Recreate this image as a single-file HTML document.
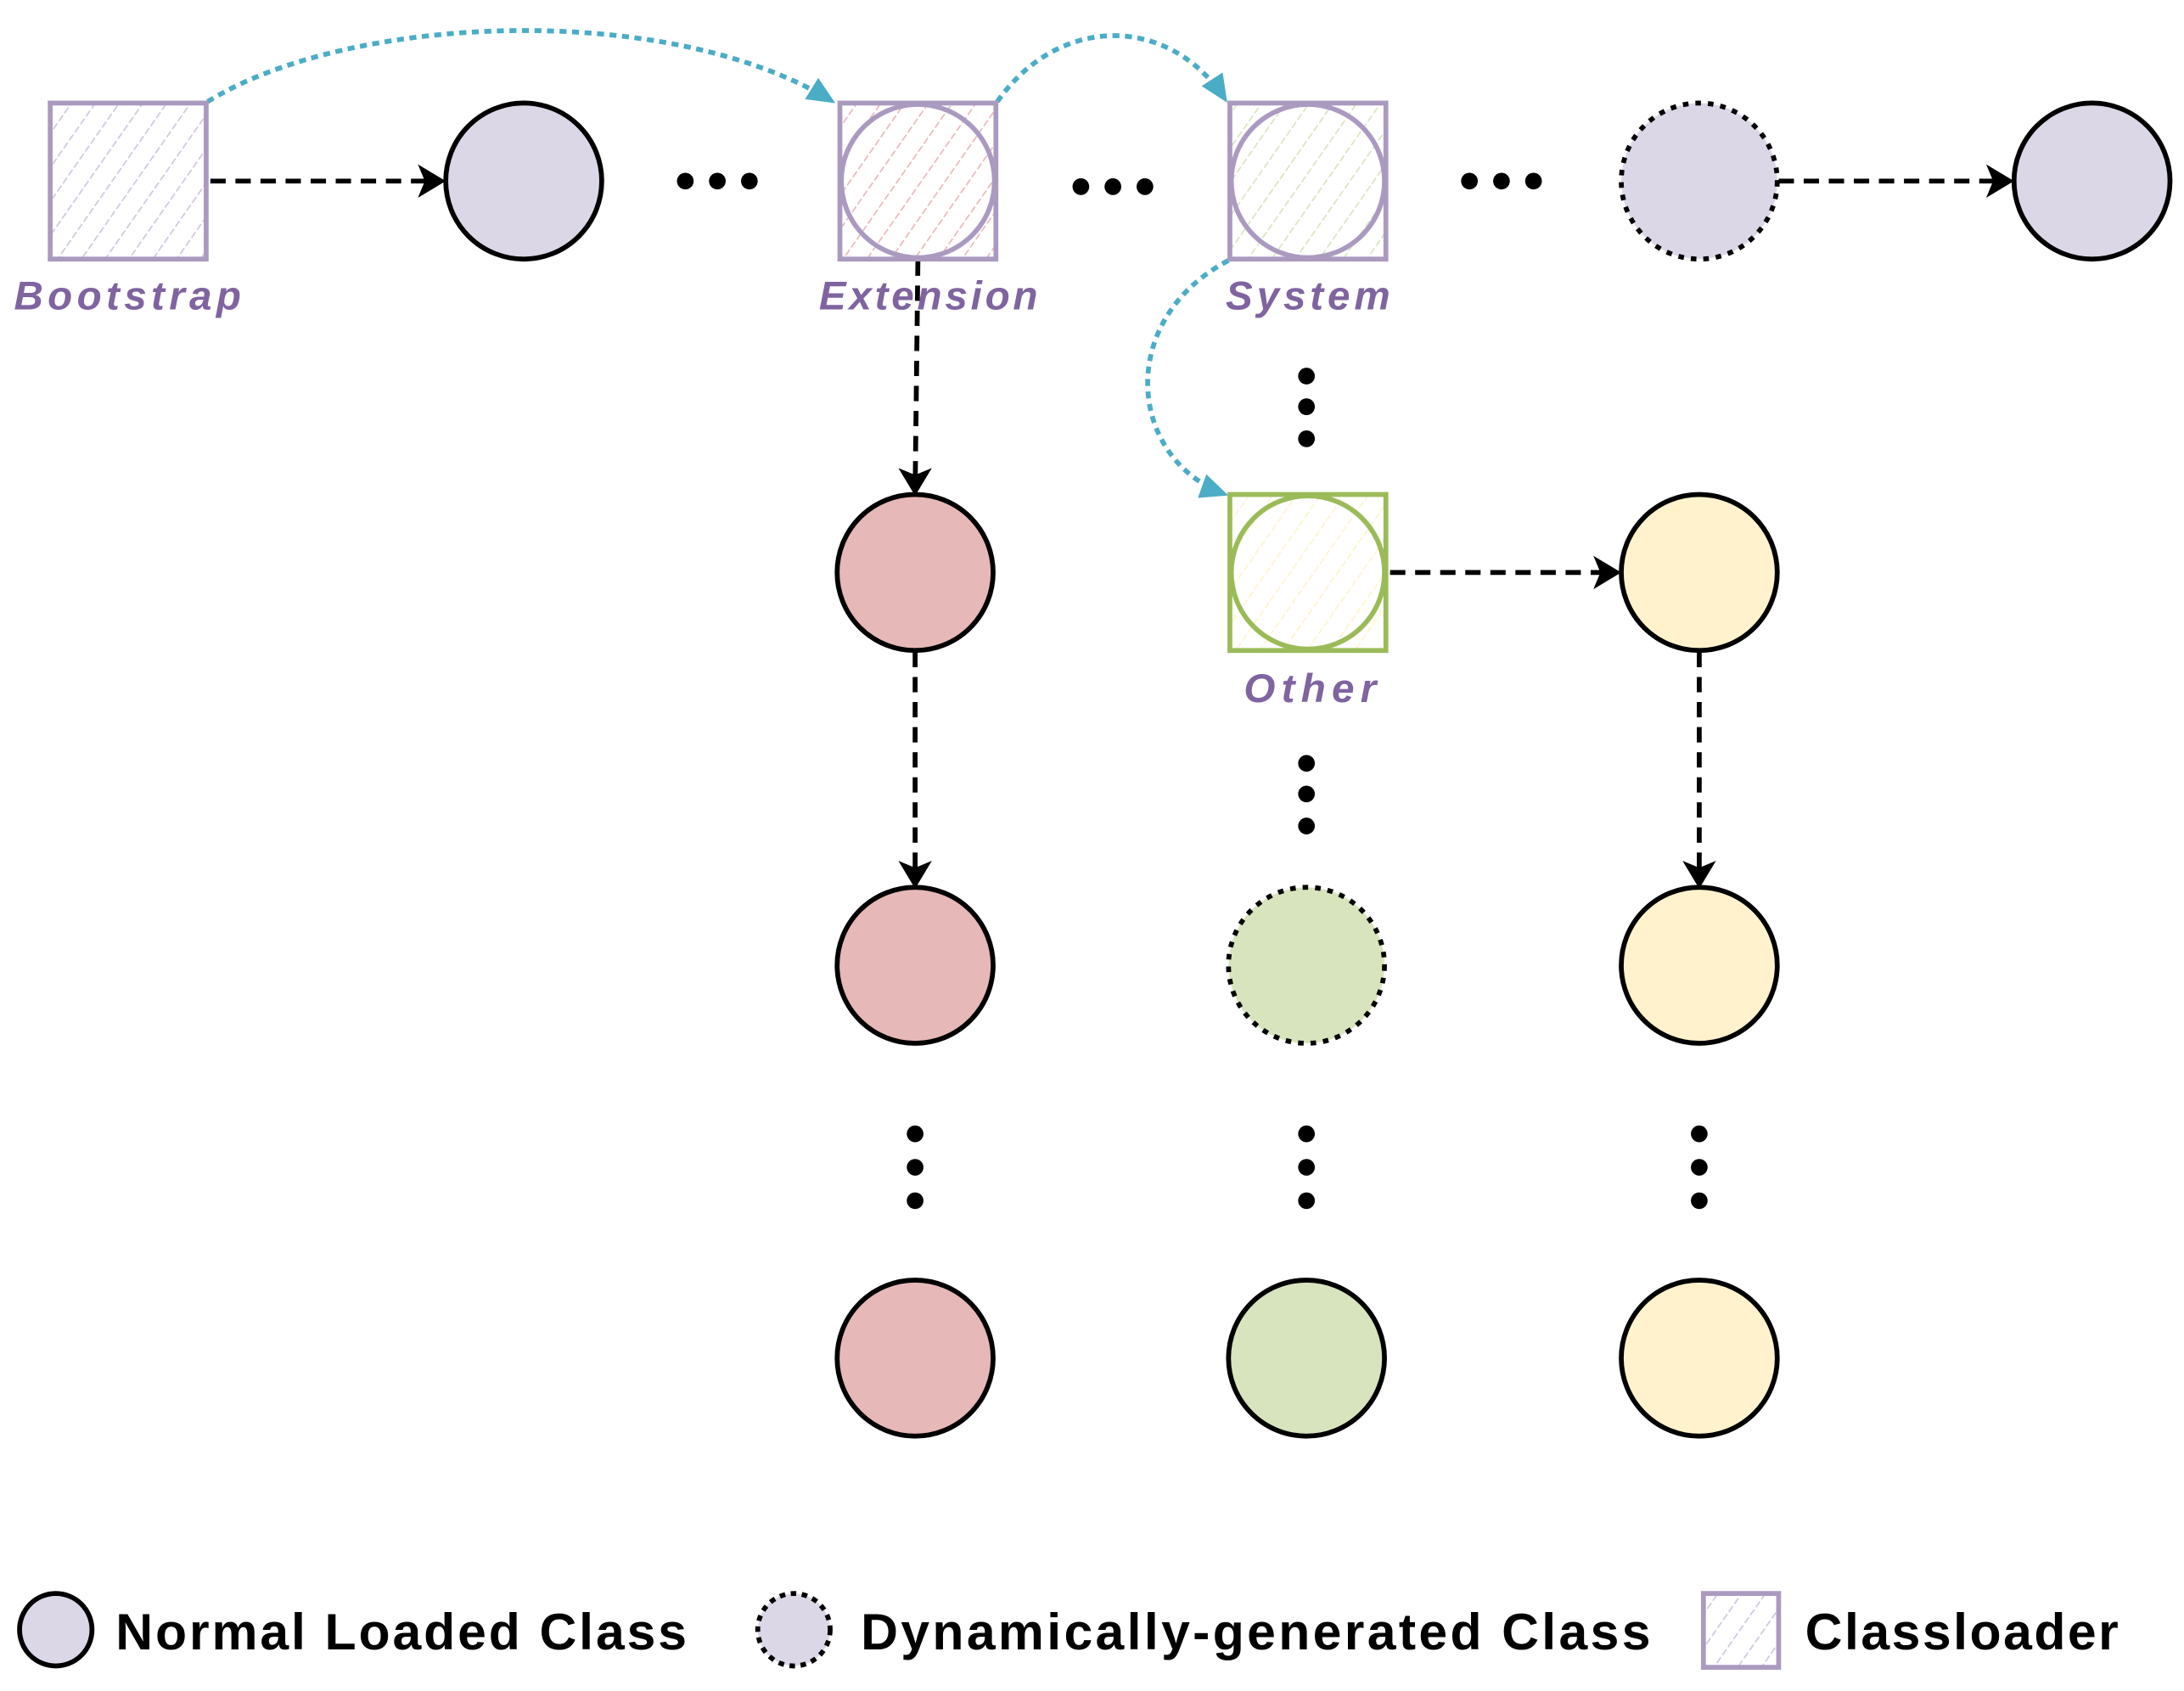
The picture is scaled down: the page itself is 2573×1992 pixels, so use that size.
<!DOCTYPE html>
<html><head><meta charset="utf-8"><style>
html,body{margin:0;padding:0;background:#fff;}
svg{display:block;}
</style></head><body>
<svg width="2573" height="1992" viewBox="0 0 1568 1214" xmlns="http://www.w3.org/2000/svg">
<defs>
<pattern id="hp" patternUnits="userSpaceOnUse" width="14" height="14" patternTransform="rotate(35)"><line x1="0" y1="0" x2="0" y2="14" stroke="#cfc4de" stroke-width="2" stroke-dasharray="5 2"/></pattern>
<pattern id="hr" patternUnits="userSpaceOnUse" width="14" height="14" patternTransform="rotate(35)"><line x1="0" y1="0" x2="0" y2="14" stroke="#e6b8b7" stroke-width="2" stroke-dasharray="5 2"/></pattern>
<pattern id="hg" patternUnits="userSpaceOnUse" width="14" height="14" patternTransform="rotate(35)"><line x1="0" y1="0" x2="0" y2="14" stroke="#d7e4bd" stroke-width="2" stroke-dasharray="5 2"/></pattern>
<pattern id="hy" patternUnits="userSpaceOnUse" width="14" height="14" patternTransform="rotate(35)"><line x1="0" y1="0" x2="0" y2="14" stroke="#fff2cc" stroke-width="2" stroke-dasharray="5 2"/></pattern>
<marker id="ab" markerWidth="10" markerHeight="10" refX="9" refY="5" orient="auto" markerUnits="userSpaceOnUse" viewBox="0 0 10 10"><path d="M0,0 L10,5 L0,10 L3,5 Z" fill="#000"/></marker>
<marker id="ac" markerWidth="20" markerHeight="18" refX="18" refY="9" orient="auto" markerUnits="userSpaceOnUse"><path d="M0,0 L20,9 L0,18 Z" fill="#4bacc6"/></marker>
</defs>
<g stroke="#4bacc6" stroke-width="3.5" fill="none" stroke-dasharray="5 4">
<path d="M149,73 C250,10 480,0 598,73" marker-end="url(#ac)"/>
<path d="M716,73 C760,10 840,10 880,72" marker-end="url(#ac)"/>
<path d="M882,187 C800,230 810,330 880,355" marker-end="url(#ac)"/>
</g>
<g stroke="#000" stroke-width="3.5" fill="none" stroke-dasharray="11 7">
<line x1="151" y1="130" x2="316" y2="130"/>
<line x1="1277" y1="130" x2="1442" y2="130"/>
<line x1="998" y1="411" x2="1160" y2="411"/>
<line x1="659" y1="187" x2="657" y2="352"/>
<line x1="657" y1="468" x2="657" y2="634"/>
<line x1="1220" y1="468" x2="1220" y2="634"/>
</g>
<g fill="#000">
<path d="M300,118 L320,130 L300,142 L305,130Z"/>
<path d="M1426,118 L1446,130 L1426,142 L1431,130Z"/>
<path d="M1144,399 L1164,411 L1144,423 L1149,411Z"/>
<path d="M645,336 L657,356 L669,336 L657,341Z"/>
<path d="M645,618 L657,638 L669,618 L657,623Z"/>
<path d="M1208,618 L1220,638 L1232,618 L1220,623Z"/>
</g>
<rect x="36" y="74" width="112" height="112" fill="url(#hp)" stroke="#ab9ac0" stroke-width="3.5"/>
<rect x="603" y="74" width="112" height="112" fill="url(#hr)" stroke="#ab9ac0" stroke-width="3.5"/>
<circle cx="659" cy="130" r="55" fill="none" stroke="#ab9ac0" stroke-width="3.5"/>
<rect x="883" y="74" width="112" height="112" fill="url(#hg)" stroke="#ab9ac0" stroke-width="3.5"/>
<circle cx="939" cy="130" r="55" fill="none" stroke="#ab9ac0" stroke-width="3.5"/>
<rect x="883" y="355" width="112" height="112" fill="url(#hy)" stroke="#9bbb59" stroke-width="3.5"/>
<circle cx="939" cy="411" r="55" fill="none" stroke="#9bbb59" stroke-width="3.5"/>
<g stroke="#000" stroke-width="3.5">
<circle cx="376" cy="130" r="56" fill="#dcd7e6"/>
<circle cx="1220" cy="130" r="56" fill="#dcd7e6" stroke-dasharray="4 5"/>
<circle cx="1502" cy="130" r="56" fill="#dcd7e6"/>
<circle cx="657" cy="411" r="56" fill="#e6b8b7"/>
<circle cx="1220" cy="411" r="56" fill="#fff2cc"/>
<circle cx="657" cy="693" r="56" fill="#e6b8b7"/>
<circle cx="938" cy="693" r="56" fill="#d7e4bd" stroke-dasharray="4 5"/>
<circle cx="1220" cy="693" r="56" fill="#fff2cc"/>
<circle cx="657" cy="975" r="56" fill="#e6b8b7"/>
<circle cx="938" cy="975" r="56" fill="#d7e4bd"/>
<circle cx="1220" cy="975" r="56" fill="#fff2cc"/>
</g>
<g fill="#000">
<circle cx="492" cy="130" r="6"/><circle cx="515" cy="130" r="6"/><circle cx="538" cy="130" r="6"/>
<circle cx="776" cy="134" r="6"/><circle cx="799" cy="134" r="6"/><circle cx="822" cy="134" r="6"/>
<circle cx="1055" cy="130" r="6"/><circle cx="1078" cy="130" r="6"/><circle cx="1101" cy="130" r="6"/>
<circle cx="938" cy="270" r="6"/><circle cx="938" cy="292" r="6"/><circle cx="938" cy="315" r="6"/>
<circle cx="938" cy="548" r="6"/><circle cx="938" cy="570" r="6"/><circle cx="938" cy="593" r="6"/>
<circle cx="657" cy="814" r="6"/><circle cx="657" cy="838" r="6"/><circle cx="657" cy="862" r="6"/>
<circle cx="938" cy="814" r="6"/><circle cx="938" cy="838" r="6"/><circle cx="938" cy="862" r="6"/>
<circle cx="1220" cy="814" r="6"/><circle cx="1220" cy="838" r="6"/><circle cx="1220" cy="862" r="6"/>
</g>
<g font-family="Liberation Sans, sans-serif" font-weight="bold" font-style="italic" font-size="29" fill="#7f64a0">
<text x="10" y="222" textLength="163">Bootstrap</text>
<text x="588" y="222" textLength="157">Extension</text>
<text x="880" y="222" textLength="118">System</text>
<text x="893" y="504" textLength="95">Other</text>
</g>
<circle cx="40" cy="1170" r="26" fill="#dcd7e6" stroke="#000" stroke-width="3.5"/>
<circle cx="570" cy="1170" r="26" fill="#dcd7e6" stroke="#000" stroke-width="3.5" stroke-dasharray="4 4"/>
<rect x="1223" y="1144" width="54" height="53" fill="url(#hp)" stroke="#ab9ac0" stroke-width="3.5"/>
<g font-family="Liberation Sans, sans-serif" font-weight="bold" font-size="37" fill="#000">
<text x="83" y="1184" textLength="410">Normal Loaded Class</text>
<text x="618" y="1184" textLength="567">Dynamically-generated Class</text>
<text x="1296" y="1184" textLength="225">Classloader</text>
</g>
</svg>
</body></html>
